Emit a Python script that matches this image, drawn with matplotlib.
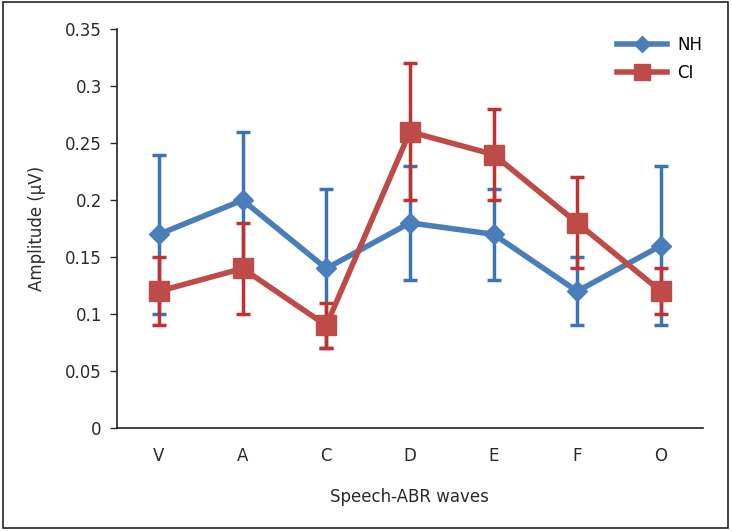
import numpy as np
import matplotlib.pyplot as plt
from matplotlib.patches import Rectangle

waves = ['V', 'A', 'C', 'D', 'E', 'F', 'O']
nh = [0.17, 0.20, 0.14, 0.18, 0.17, 0.12, 0.16]
nh_err = [0.07, 0.06, 0.07, 0.05, 0.04, 0.03, 0.07]
ci = [0.12, 0.14, 0.09, 0.26, 0.24, 0.18, 0.12]
ci_err = [0.03, 0.04, 0.02, 0.06, 0.04, 0.04, 0.02]

plt.rcParams['font.family'] = ['DejaVu Sans']
blue = '#4a7ebb'
blue_err = '#3c73b6'
red = '#be4b48'
red_err = '#c0312f'

fig = plt.figure(figsize=(7.32, 5.31), dpi=100)
fig.patches.append(Rectangle((0.004, 0.006), 0.99, 0.99, transform=fig.transFigure,
                             fill=False, edgecolor='#222222', linewidth=1.2))
ax = fig.add_axes([0.16, 0.194, 0.8, 0.751])

x = np.arange(len(waves))
ax.errorbar(x, nh, yerr=nh_err, fmt='none', ecolor=blue_err, elinewidth=2.5,
            capsize=5, capthick=2.5, zorder=2)
ax.plot(x, nh, color=blue, lw=4, marker='D', markersize=10, label='NH', zorder=3)
ax.errorbar(x, ci, yerr=ci_err, fmt='none', ecolor=red_err, elinewidth=2.5,
            capsize=5, capthick=2.5, zorder=4)
ax.plot(x, ci, color=red, lw=4, marker='s', markersize=14, label='CI', zorder=5)

ax.set_xlim(-0.5, len(waves) - 0.5)
ax.set_ylim(0, 0.35)
ax.set_yticks(np.arange(0, 0.351, 0.05))
ax.set_yticklabels(['0', '0.05', '0.1', '0.15', '0.2', '0.25', '0.3', '0.35'])
ax.set_xticks(x)
ax.set_xticklabels(waves)
ax.tick_params(axis='x', length=0, pad=14, labelsize=12, colors='#2a2a2a')
ax.tick_params(axis='y', length=5, width=1, pad=6, labelsize=12, colors='#2a2a2a')
for s in ['top', 'right']:
    ax.spines[s].set_visible(False)
for s in ['left', 'bottom']:
    ax.spines[s].set_linewidth(1.2)
    ax.spines[s].set_color('#222222')

ax.set_xlabel('Speech-ABR waves', fontsize=12, labelpad=16, color='#2a2a2a')
ax.set_ylabel('Amplitude (μV)', fontsize=12, labelpad=14, color='#2a2a2a')

ax.legend(loc='upper right', bbox_to_anchor=(1.025, 1.02), frameon=False,
          fontsize=12, handlelength=3.0, handletextpad=0.6, labelspacing=0.6,
          markerscale=0.8)

fig.savefig('out.png', dpi=100)
